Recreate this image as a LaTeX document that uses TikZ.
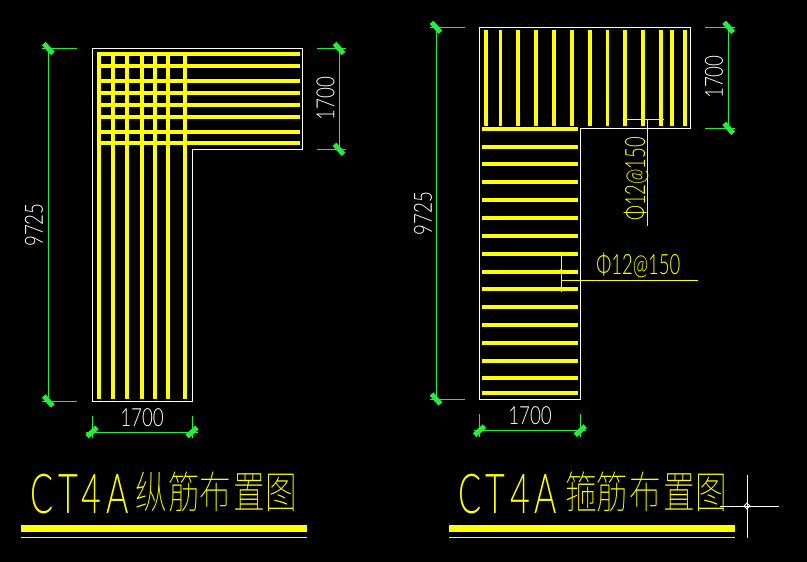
\documentclass[tikz,border=0pt]{standalone}
\usepackage{fontspec}
\newfontfamily\cadfont{Lato Light}
\newfontfamily\cjkfont{Noto Sans CJK SC Thin}
\definecolor{cadyellow}{RGB}{255,255,0}
\definecolor{cadgreen}{RGB}{40,235,60}
\tikzset{
  outline/.style={draw=white,line width=1pt},
  rebar/.style={draw=cadyellow,line width=#1},
  thinline/.style={draw=cadyellow,line width=1pt},
  dimline/.style={draw=cadgreen,line width=1pt},
  dimtick/.style={draw=cadgreen,line width=5pt},
  dimtext/.style={text=white,inner sep=0pt,xscale=0.75,font=\cadfont\fontsize{25}{25}\selectfont},
  marktext/.style={text=cadyellow,inner sep=0pt,xscale=0.66,font=\cadfont\fontsize{28}{28}\selectfont},
  titletext/.style={text=cadyellow,inner sep=0pt,anchor=base,font=\cadfont\fontsize{55}{55}\selectfont,xscale=0.62},
  titlecjk/.style={text=cadyellow,inner sep=0pt,anchor=base,font=\cjkfont\fontsize{44}{44}\selectfont,xscale=0.72},
}
\begin{document}
\begin{tikzpicture}[x=1pt,y=-1pt]
  \useasboundingbox[fill=black] (0,0) rectangle (807,562);

  % Left section
  \draw[outline] (92,48.5) -- (302.5,48.5) -- (302.5,149.3) -- (192,149.3) -- (192,401) -- (92,401) -- cycle;
  \foreach \y/\w in {54/4.5,66/4.5,81/3.5,93/4,105/3.5,117/3.5,132/4.5,143/4.5}
    \draw[rebar=\w pt] (97,\y) -- (300,\y);
  \foreach \x/\w in {99/4.5,113/4,127/4,142/4.5,155/4,168/4,185/4.5}
    \draw[rebar=\w pt] (\x,52) -- (\x,398.7);

  % Right section
  \draw[outline] (479.5,27.3) -- (690.3,27.3) -- (690.3,128.3) -- (580.3,128.3) -- (580.3,399) -- (479.5,399) -- cycle;
  \foreach \x/\w in {486/4.5,500.3/3.5,518/4.5,536/4.5,554/4.5,572/4.5,590/4.5,607.3/3.5,625/4.5,643/4.5,661/4.5,672/4.5,685/4.5}
    \draw[rebar=\w pt] (\x,30) -- (\x,125.7);
  \foreach \y in {129,146.7,164.4,182.3,200,218,236,254,271.5,289,306.7,324.7,342.7,360.7,378.3,393}
    \draw[rebar=4pt] (482,\y) -- (578.3,\y);

  % Dimensions
  \foreach \xa/\ya/\xb/\yb/\xc/\xd in {48.3/48.5/48.3/401/42/77, 339/48.5/339/149.3/317/346, 436/27.3/436/399/430/465, 728.7/27.3/728.7/128.3/705/735}{
    \draw[dimline] (\xa,\ya) -- (\xb,\yb);
    \draw[dimline] (\xc,\ya) -- (\xd,\ya);
    \draw[dimline] (\xc,\yb) -- (\xd,\yb);
    \draw[dimtick] (\xa-4.5,\ya-5) -- (\xa+4.5,\ya+5);
    \draw[dimtick] (\xb-4.5,\yb-5) -- (\xb+4.5,\yb+5);
  }
  \foreach \xa/\xb/\yd/\ya/\yb in {92/192/432/416/438, 479.5/580.3/430.7/414/437}{
    \draw[dimline] (\xa-6,\yd) -- (\xb+6,\yd);
    \draw[dimline] (\xa,\ya) -- (\xa,\yb);
    \draw[dimline] (\xb,\ya) -- (\xb,\yb);
    \draw[dimtick] (\xa-5,\yd+4.5) -- (\xa+5,\yd-4.5);
    \draw[dimtick] (\xb-5,\yd+4.5) -- (\xb+5,\yd-4.5);
  }
  \node[rotate=90,dimtext] (dimLa) at (34,225) {9725};
  \node[rotate=90,dimtext] (dimLb) at (325.5,98.5) {1700};
  \node[dimtext] (dimLc) at (142,418) {1700};
  \node[rotate=90,dimtext] (dimRa) at (423,213.5) {9725};
  \node[rotate=90,dimtext] (dimRb) at (714,77) {1700};
  \node[dimtext] (dimRc) at (530,416) {1700};

  % Stirrup marks
  \draw[thinline] (623,119.7) -- (664,119.7);
  \draw[thinline] (647.7,119.7) -- (647.7,226);
  \draw[thinline] (561,251.7) -- (561,291.7);
  \draw[thinline] (561,280.7) -- (697.7,280.7);
  \foreach \x/\y in {625/119.7,643/119.7,661/119.7,561/254,561/271.5,561/289}
    \fill[cadyellow] (\x,\y) circle (2.3pt);
  \node[rotate=90,marktext] (markTop) at (636,179) {Φ12@150};
  \node[marktext] (markMid) at (638.3,265.5) {Φ12@150};

  % Titles
  \foreach \x/\c in {42/C,68/T,91/4,117.5/A}
    \node[titletext] at (\x,513) {\c};
  \foreach \x/\c in {151/纵,184/筋,215/布,249/置,281/图}
    \node[titlecjk] at (\x,508) {\c};
  \foreach \x/\c in {470/C,495/T,520/4,545.5/A}
    \node[titletext] at (\x,513) {\c};
  \foreach \x/\c in {581/箍,612/筋,645/布,679/置,711/图}
    \node[titlecjk] at (\x,508) {\c};
  \draw[rebar=7pt] (21,528.5) -- (307,528.5);
  \draw[thinline] (21,537) -- (307,537);
  \draw[rebar=7pt] (449,528.3) -- (735,528.3);
  \draw[thinline] (449,537) -- (735,537);

  % Crosshair
  \draw[outline] (720,506) -- (779,506);
  \draw[outline] (747,475) -- (747,538);
  \draw[outline] (744,506) -- (747,503) -- (750,506) -- (747,509) -- cycle;
\end{tikzpicture}
\end{document}
